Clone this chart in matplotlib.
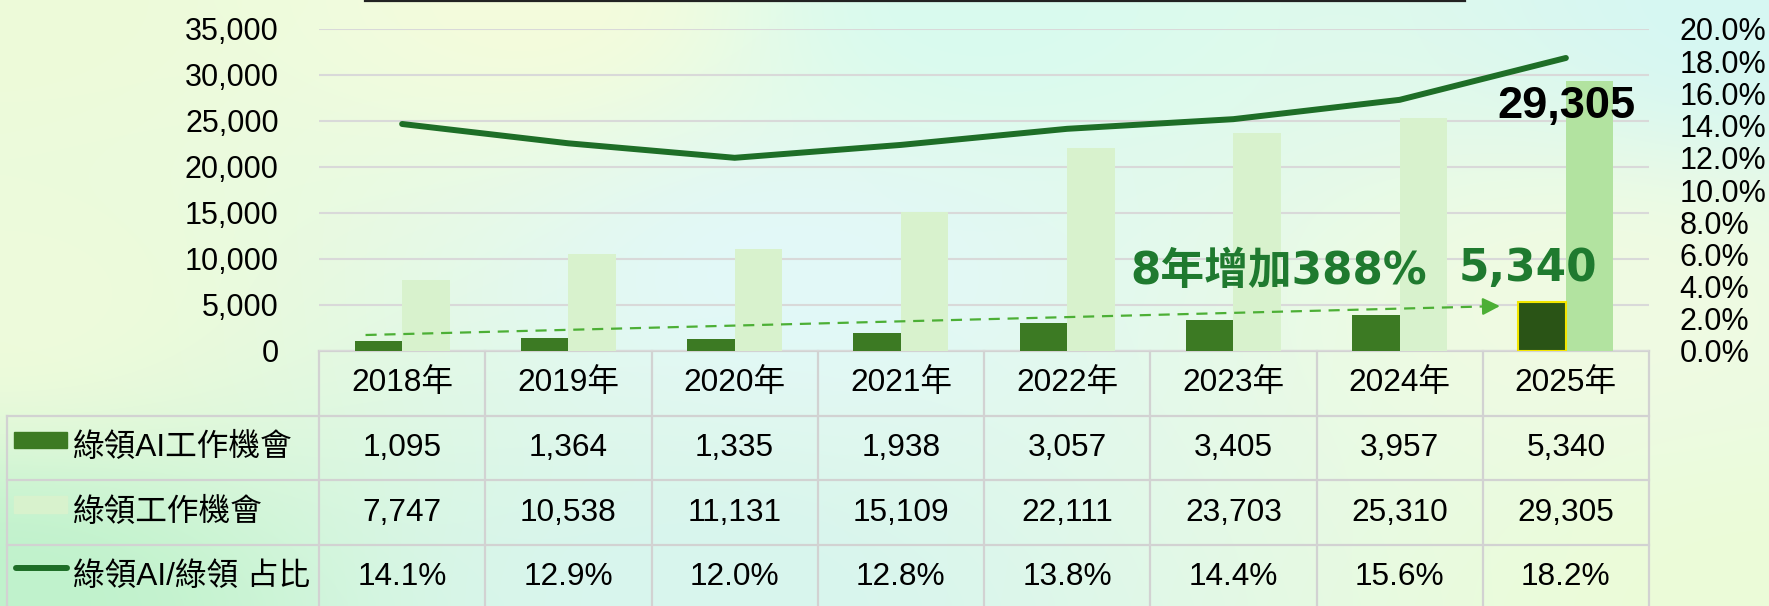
import numpy as np
import matplotlib
matplotlib.use('Agg')
import matplotlib.pyplot as plt
from matplotlib.patches import Rectangle
from matplotlib.ticker import FuncFormatter, MultipleLocator

# dados
years = ['2018年', '2019年', '2020年', '2021年', '2022年', '2023年', '2024年', '2025年']
ai_jobs = [1095, 1364, 1335, 1938, 3057, 3405, 3957, 5340]
green_jobs = [7747, 10538, 11131, 15109, 22111, 23703, 25310, 29305]
ai_share = [14.1, 12.9, 12.0, 12.8, 13.8, 14.4, 15.6, 18.2]
row_labels = ['綠領AI工作機會', '綠領工作機會', '綠領AI/綠領 占比']
growth_label = '8年增加388%'

FONT = ['Liberation Sans', 'Noto Sans CJK TC']
BOLD_FONT = ['DejaVu Sans', 'Noto Sans CJK TC']
plt.rcParams['font.family'] = FONT

W, H = 1769, 606
fig = plt.figure(figsize=(W / 100, H / 100), dpi=100)

# fundo com gradiente
bg = fig.add_axes([0, 0, 1, 1])
pts = np.array([[0, 0], [0.3, 0], [0.55, 0], [1, 0], [0.45, 0.45], [0, 0.5],
                [0, 1], [0.4, 1], [1, 1], [0.9, 0.5]])
cols = np.array([[238, 251, 217], [244, 252, 220], [217, 251, 239], [214, 247, 243],
                 [226, 248, 248], [238, 251, 219], [192, 242, 204], [216, 245, 238],
                 [236, 252, 216], [240, 251, 226]]) / 255
gx, gy = np.meshgrid(np.linspace(0, 1, 300), np.linspace(0, 1, 110))
wts = []
for p in pts:
    d = np.sqrt(((gx - p[0]) * 1.6) ** 2 + (gy - p[1]) ** 2) + 1e-3
    wts.append(1 / d ** 2.5)
wts = np.array(wts)
img = np.tensordot(wts, cols, axes=(0, 0)) / wts.sum(axis=0)[..., None]
bg.imshow(img, extent=(0, W, H, 0), aspect='auto', interpolation='bilinear')
bg.set_xlim(0, W)
bg.set_ylim(H, 0)
bg.axis('off')

# linha preta no topo
bg.plot([365, 1465], [1, 1], color='#222222', lw=1.6)

# eixo principal
left, right, top, bottom = 319, 1649, 29, 351
ax = fig.add_axes([left / W, (H - bottom) / H, (right - left) / W, (bottom - top) / H])
ax.set_facecolor('none')
x = np.arange(len(years))
bw = 0.285
dark_cols = ['#3c7a23'] * 7 + ['#2a5416']
light_cols = ['#d8f2cd'] * 7 + ['#b2e3a0']
ax.bar(x - bw / 2, ai_jobs, width=bw, color=dark_cols, zorder=2)
ax.bar(x[-1] - bw / 2, ai_jobs[-1], width=bw, color='none', edgecolor='#f2e600', lw=1.5, zorder=3)
ax.bar(x + bw / 2, green_jobs, width=bw, color=light_cols, zorder=2)
ax.set_xlim(-0.5, len(years) - 0.5)
ax.set_ylim(0, 35000)
ax.yaxis.set_major_locator(MultipleLocator(5000))
ax.yaxis.set_major_formatter(FuncFormatter(lambda v, p: f'{v:,.0f}'))
ax.yaxis.grid(True, color='#d9d9d9', lw=1.5, zorder=0)
ax.set_axisbelow(True)
ax.tick_params(axis='y', length=0, pad=29, labelsize=22)
ax.set_xticks([])
for s in ax.spines.values():
    s.set_visible(False)

# rótulos
ax.annotate(f'{green_jobs[-1]:,}', xy=(x[-1] + bw / 2, green_jobs[-1]), xytext=(-23, -25),
            textcoords='offset pixels', ha='center', va='center',
            fontsize=32.5, fontweight='bold', color='black', zorder=5)
ax.annotate(f'{ai_jobs[-1]:,}', xy=(x[-1] - bw / 2, ai_jobs[-1]), xytext=(-14, 33),
            textcoords='offset pixels', ha='center', va='center', family=BOLD_FONT,
            fontsize=31.5, fontweight='bold', color='#1f7a2f', zorder=5)
ax.text(5.27, 8600, growth_label, ha='center', va='center', family=BOLD_FONT,
        fontsize=31.5, fontweight='bold', color='#1f7a2f', zorder=5)

# seta tracejada
x0, y0, x1, y1 = -0.22, 1739, 6.55, 4860
ax.plot([x0, x1], [y0, y1], color='#4caf35', lw=1.6, dashes=(5, 3.5), zorder=4)
ax.annotate('', xy=(6.62, 4891), xytext=(x1, y1),
            arrowprops=dict(arrowstyle='-|>', color='#4caf35', lw=1.6, mutation_scale=26),
            zorder=4)

# eixo secundário
ax2 = ax.twinx()
ax2.plot(x, ai_share, color='#1e6e27', lw=4.3, solid_capstyle='round', zorder=6)
ax2.set_ylim(0, 20)
ax2.yaxis.set_major_locator(MultipleLocator(2))
ax2.yaxis.set_major_formatter(FuncFormatter(lambda v, p: f'{v:.1f}%'))
ax2.tick_params(axis='y', length=0, pad=22, labelsize=22)
for s in ax2.spines.values():
    s.set_visible(False)

# tabela de dados
col_w = (right - left) / len(years)
rows_y = [351, 416, 480, 545, 610]
lc, lw_t = '#d2d2d2', 1.6
fs = 22.8
bg.plot([left, right], [rows_y[0], rows_y[0]], color=lc, lw=lw_t)
for ry in rows_y[1:4]:
    bg.plot([7, right], [ry, ry], color=lc, lw=lw_t)
for i in range(len(years) + 1):
    cx = left + i * col_w
    bg.plot([cx, cx], [rows_y[0], H], color=lc, lw=lw_t)
bg.plot([7, 7], [rows_y[1], H], color=lc, lw=lw_t)

for i, yr in enumerate(years):
    cx = left + (i + 0.5) * col_w
    bg.text(cx, 383, yr, ha='center', va='center', fontsize=fs)
    bg.text(cx, 448, f'{ai_jobs[i]:,}', ha='center', va='center', fontsize=fs)
    bg.text(cx, 513, f'{green_jobs[i]:,}', ha='center', va='center', fontsize=fs)
    bg.text(cx, 577, f'{ai_share[i]:.1f}%', ha='center', va='center', fontsize=fs)

# legenda dentro da tabela
bg.add_patch(Rectangle((14, 432), 53, 16, color='#3c7a23'))
bg.add_patch(Rectangle((14, 496), 53, 17, color='#d8f2cd'))
bg.plot([16, 67], [568, 568], color='#1e6e27', lw=4.3, solid_capstyle='round')
for ty, lab in zip([448, 513, 577], row_labels):
    bg.text(73, ty, lab, ha='left', va='center', fontsize=fs)

fig.savefig('out.png', dpi=100)
